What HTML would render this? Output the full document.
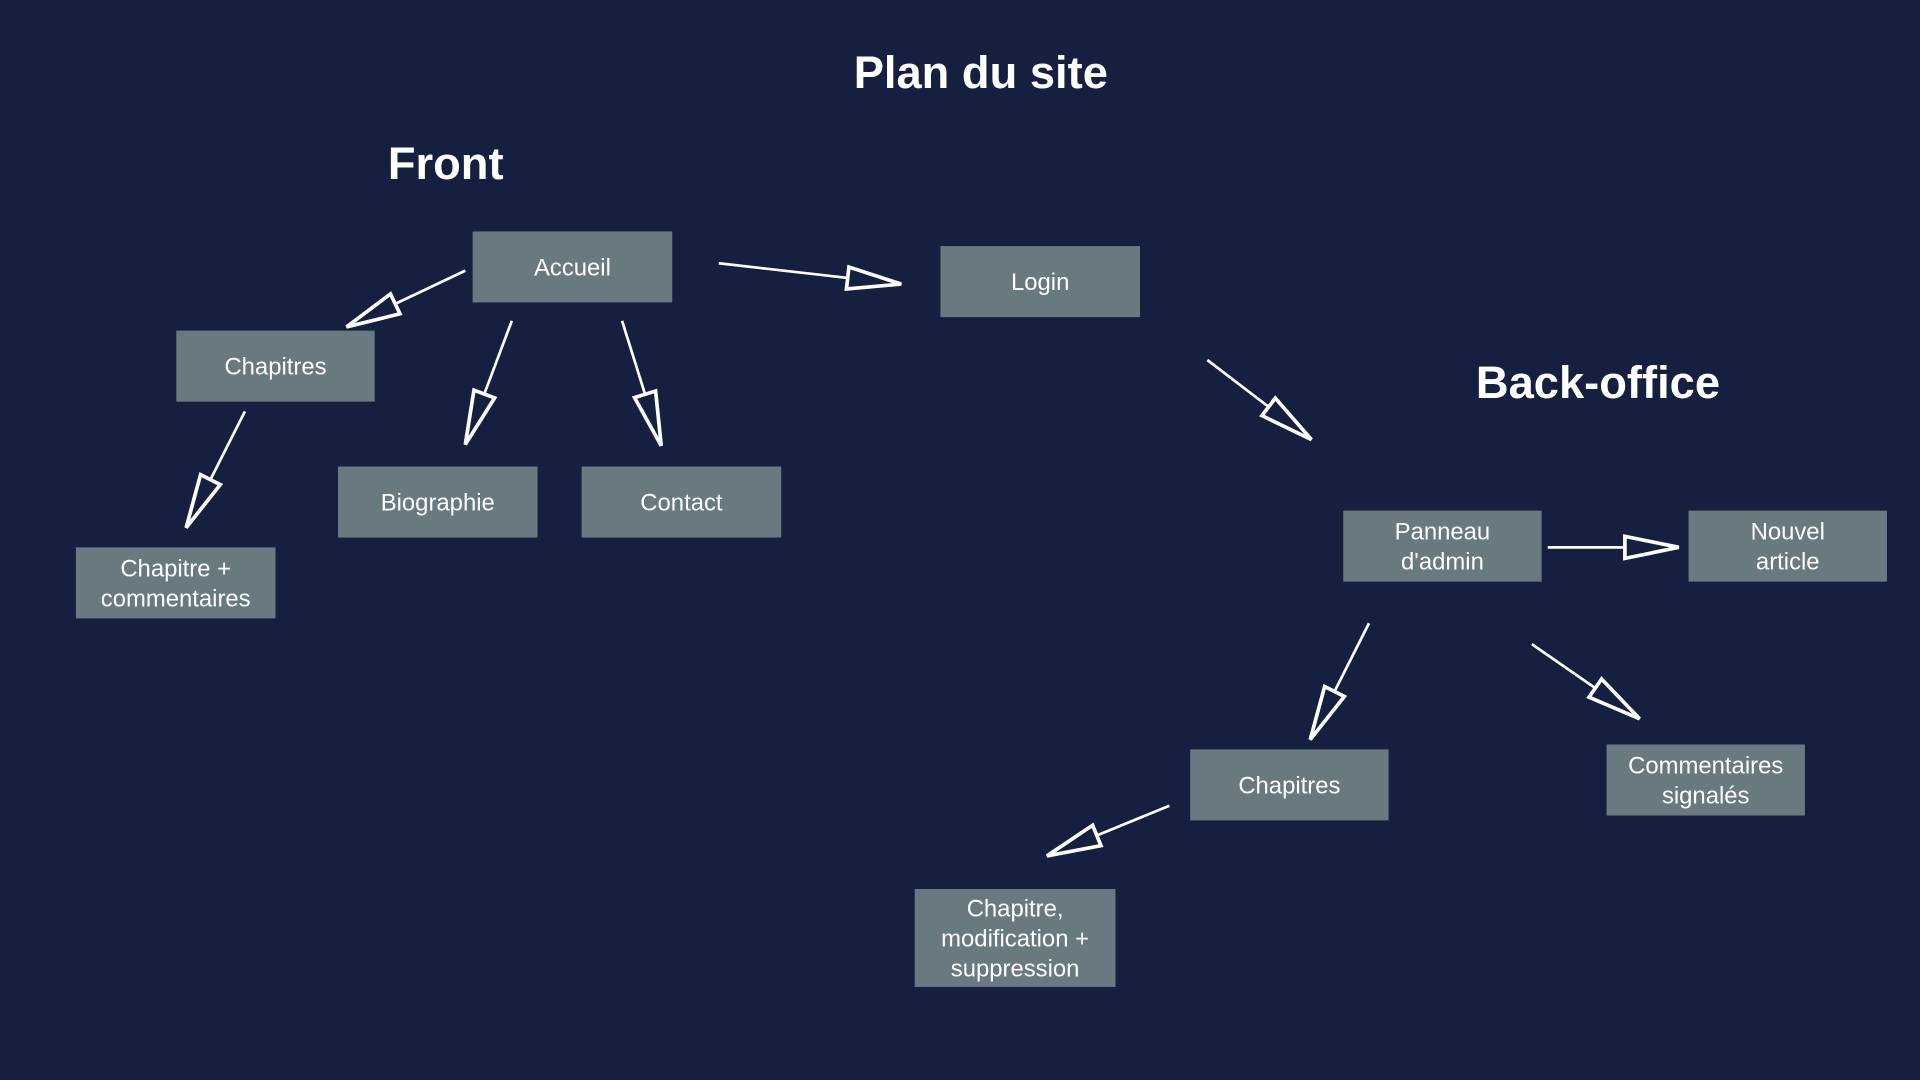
<!DOCTYPE html>
<html><head><meta charset="utf-8"><style>
html,body{margin:0;padding:0;background:#151f3f;overflow:hidden}
svg{display:block}
text{font-family:"Liberation Sans",sans-serif;fill:#fff}
</style></head><body>
<svg id="s" width="1920" height="1080" viewBox="0 0 1568 882" preserveAspectRatio="none">
<rect width="1568" height="882" fill="#151f3f"/>
<text x="801" y="72" font-size="37" font-weight="bold" text-anchor="middle">Plan du site</text>
<text x="364" y="146" font-size="37" font-weight="bold" text-anchor="middle">Front</text>
<text x="1305" y="325" font-size="37" font-weight="bold" text-anchor="middle">Back-office</text>
<g id="boxes" fill="#687a80"></g>
<g id="arrows" stroke="#fff" stroke-width="2.2" fill="none"></g>
</svg>
<script>
var NS="http://www.w3.org/2000/svg";
var boxes=[
[386,189,163,58,["Accueil"]],
[144,270,162,58,["Chapitres"]],
[62,447,163,58,["Chapitre +","commentaires"]],
[276,381,163,58,["Biographie"]],
[475,381,163,58,["Contact"]],
[768,201,163,58,["Login"]],
[1097,417,162,58,["Panneau","d'admin"]],
[1379,417,162,58,["Nouvel","article"]],
[972,612,162,58,["Chapitres"]],
[1312,608,162,58,["Commentaires","signalés"]],
[747,726,164,80,["Chapitre,","modification +","suppression"]]
];
var g=document.getElementById("boxes");
boxes.forEach(function(b){
 var r=document.createElementNS(NS,"rect");
 r.setAttribute("x",b[0]);r.setAttribute("y",b[1]);r.setAttribute("width",b[2]);r.setAttribute("height",b[3]);
 g.appendChild(r);
 var n=b[4].length,lh=24.5,cy=b[1]+b[3]/2,y0=cy-(n-1)*lh/2+7;
 b[4].forEach(function(t,i){
  var tx=document.createElementNS(NS,"text");
  tx.setAttribute("x",b[0]+b[2]/2);tx.setAttribute("y",y0+i*lh);
  tx.setAttribute("font-size","19.5");tx.setAttribute("text-anchor","middle");tx.setAttribute("fill","#f2f2f2");
  tx.textContent=t;g.appendChild(tx);
 });
});
var arrows=[
[380,221,283,267],[418,262,380,363],[508,262,540,364],[587,215,736,232],
[200,336,152,431],[986,294,1071,359],[1264,447,1371,447],[1118,509,1070,604],
[1251,526,1339,587],[955,658,855,699]
];
var a=document.getElementById("arrows");
arrows.forEach(function(p){
 var dx=p[2]-p[0],dy=p[3]-p[1],L=Math.hypot(dx,dy),ux=dx/L,uy=dy/L,px=-uy,py=ux;
 var hl=44,hw=9;
 var bx=p[2]-ux*hl,by=p[3]-uy*hl;
 var l=document.createElementNS(NS,"line");
 l.setAttribute("x1",p[0]);l.setAttribute("y1",p[1]);l.setAttribute("x2",bx);l.setAttribute("y2",by);
 a.appendChild(l);
 var pg=document.createElementNS(NS,"polygon");
 pg.setAttribute("points",[p[2],p[3],bx+px*hw,by+py*hw,bx-px*hw,by-py*hw].join(","));
 pg.setAttribute("stroke-width","3");pg.setAttribute("stroke-linejoin","miter");
 a.appendChild(pg);
});
</script>
</body></html>
